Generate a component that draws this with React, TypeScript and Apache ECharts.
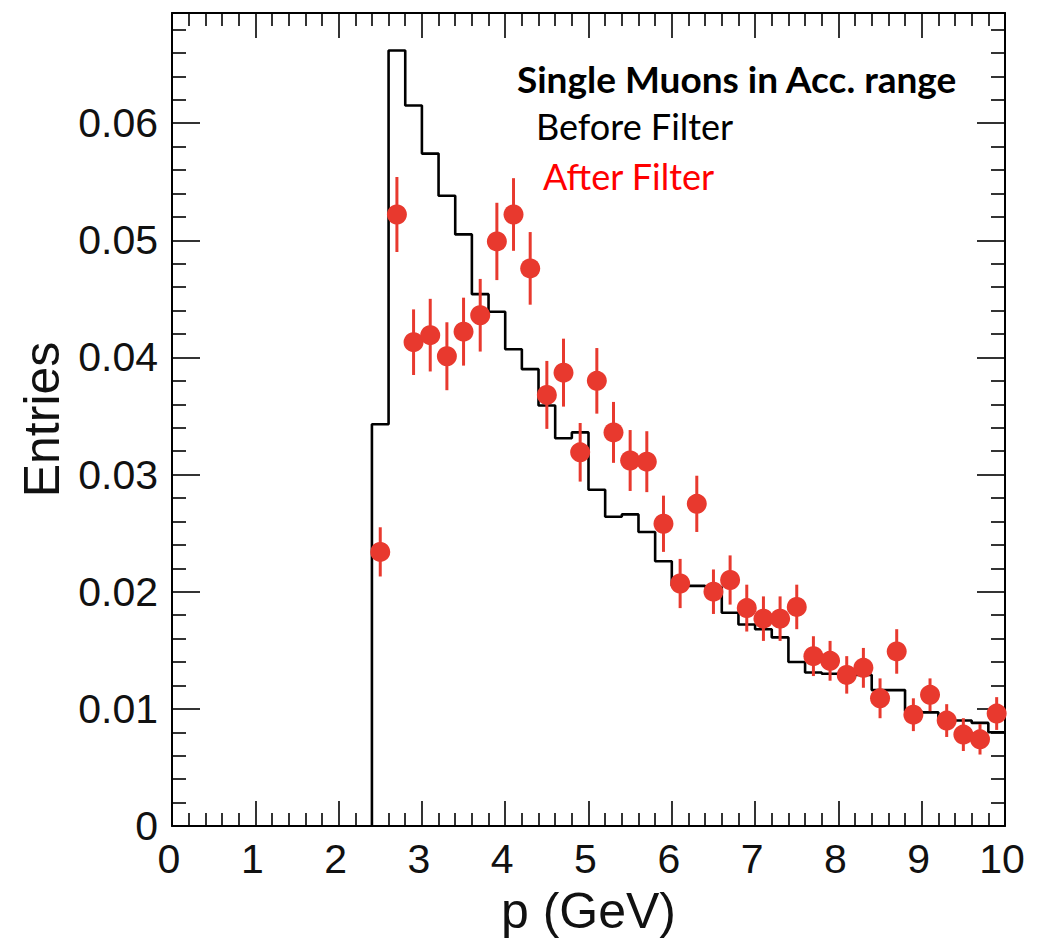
import React, { useEffect, useRef } from "react";
import * as echarts from "echarts";

// Histogram "Before Filter": bin low edges (width 0.2 GeV) and contents
const binWidth = 0.2;
const binLowEdges = [
  2.4, 2.6, 2.8, 3.0, 3.2, 3.4, 3.6, 3.8, 4.0, 4.2, 4.4, 4.6, 4.8, 5.0, 5.2, 5.4, 5.6, 5.8, 6.0,
  6.2, 6.4, 6.6, 6.8, 7.0, 7.2, 7.4, 7.6, 7.8, 8.0, 8.2, 8.4, 8.6, 8.8, 9.0, 9.2, 9.4, 9.6, 9.8,
];
const beforeFilter = [
  0.0343, 0.0662, 0.0615, 0.0574, 0.0538, 0.0505, 0.0454, 0.0439, 0.0407, 0.039, 0.0359, 0.0331,
  0.0336, 0.0287, 0.0264, 0.0266, 0.0251, 0.0226, 0.0205, 0.0205, 0.0204, 0.0182, 0.0172, 0.0168,
  0.0161, 0.014, 0.0131, 0.013, 0.013, 0.0129, 0.0116, 0.0116, 0.0098, 0.0097, 0.0091, 0.009,
  0.0088, 0.008,
];

// "After Filter": points at bin centres with vertical errors
const afterCenters = [
  2.5, 2.7, 2.9, 3.1, 3.3, 3.5, 3.7, 3.9, 4.1, 4.3, 4.5, 4.7, 4.9, 5.1, 5.3, 5.5, 5.7, 5.9, 6.1,
  6.3, 6.5, 6.7, 6.9, 7.1, 7.3, 7.5, 7.7, 7.9, 8.1, 8.3, 8.5, 8.7, 8.9, 9.1, 9.3, 9.5, 9.7, 9.9,
];
const afterFilter = [
  0.0234, 0.0522, 0.0413, 0.0419, 0.0401, 0.0422, 0.0436, 0.0499, 0.0522, 0.0476, 0.0368, 0.0387,
  0.0319, 0.038, 0.0336, 0.0312, 0.0311, 0.0258, 0.0207, 0.0275, 0.02, 0.021, 0.0186, 0.0177,
  0.0177, 0.0187, 0.0145, 0.0141, 0.0129, 0.0135, 0.0109, 0.0149, 0.0095, 0.0112, 0.009, 0.0078,
  0.0074, 0.0096,
];
const afterErr = [
  0.0021, 0.0032, 0.0028, 0.0031, 0.0029, 0.0029, 0.0031, 0.0033, 0.0031, 0.0031, 0.0029, 0.0029,
  0.0025, 0.0028, 0.0026, 0.0026, 0.0026, 0.0024, 0.0021, 0.0024, 0.0019, 0.0021, 0.002, 0.0019,
  0.0019, 0.0019, 0.0017, 0.0017, 0.0016, 0.0017, 0.0017, 0.0019, 0.0014, 0.0014, 0.0014, 0.0014,
  0.0013, 0.0014,
];

const yTickLabels = ["0", "0.01", "0.02", "0.03", "0.04", "0.05", "0.06"];
const xTickLabels = ["0", "1", "2", "3", "4", "5", "6", "7", "8", "9", "10"];

const titleLines = ["Single Muons in Acc. range", "Before Filter", "After Filter"];

const RED = "#e8392e";
const AXIS_FONT = "'Liberation Sans', Arial, Helvetica, sans-serif";
const TEXT_FONT = "Lato, 'Open Sans', sans-serif";

export default function App() {
  const ref = useRef<HTMLDivElement>(null);

  useEffect(() => {
    if (!ref.current) return;
    const chart = echarts.init(ref.current, undefined, { renderer: "svg" });

    // build step outline of the histogram
    const histLine: number[][] = [[binLowEdges[0], 0]];
    binLowEdges.forEach((lo, i) => {
      histLine.push([lo, beforeFilter[i]]);
      histLine.push([lo + binWidth, beforeFilter[i]]);
    });

    const points = afterCenters.map((x, i) => [x, afterFilter[i], afterErr[i]]);

    const yFmt = (v: number) => {
      const idx = Math.round(v / 0.01);
      if (Math.abs(v - idx * 0.01) > 1e-9) return "";
      return yTickLabels[idx] ?? "";
    };
    const xFmt = (v: number) => {
      const idx = Math.round(v);
      if (Math.abs(v - idx) > 1e-9) return "";
      return xTickLabels[idx] ?? "";
    };

    const commonX = {
      type: "value" as const,
      min: 0,
      max: 10,
      interval: 1,
      axisLine: { show: true, onZero: false, lineStyle: { color: "#000", width: 2 } },
      axisTick: { show: true, inside: true, length: 25, lineStyle: { color: "#000", width: 1.6 } },
      minorTick: { show: true, splitNumber: 5, length: 13, lineStyle: { color: "#000", width: 1.6 } },
      splitLine: { show: false },
      minorSplitLine: { show: false },
    };
    const commonY = {
      type: "value" as const,
      min: 0,
      max: 0.0694,
      interval: 0.01,
      axisLine: { show: true, onZero: false, lineStyle: { color: "#000", width: 2 } },
      axisTick: { show: true, inside: true, length: 28, lineStyle: { color: "#000", width: 1.6 } },
      minorTick: { show: true, splitNumber: 5, length: 14, lineStyle: { color: "#000", width: 1.6 } },
      splitLine: { show: false },
      minorSplitLine: { show: false },
    };

    chart.setOption({
      animation: false,
      backgroundColor: "#fff",
      grid: { left: 172, top: 13, right: 50, bottom: 113, containLabel: false },
      xAxis: [
        {
          ...commonX,
          position: "bottom",
          name: "p (GeV)",
          nameLocation: "middle",
          nameGap: 60,
          nameTextStyle: { fontFamily: AXIS_FONT, fontSize: 50, color: "#111" },
          axisLabel: {
            show: true,
            margin: 12,
            fontFamily: AXIS_FONT,
            fontSize: 41,
            color: "#111",
            formatter: xFmt,
            padding: [0, 6, 0, 0],
          },
        },
        { ...commonX, position: "top", axisLabel: { show: false } },
      ],
      yAxis: [
        {
          ...commonY,
          position: "left",
          name: "Entries",
          nameLocation: "middle",
          nameRotate: 90,
          nameGap: 93,
          nameTextStyle: { fontFamily: AXIS_FONT, fontSize: 50, color: "#111" },
          axisLabel: {
            show: true,
            margin: 14,
            fontFamily: AXIS_FONT,
            fontSize: 41,
            color: "#111",
            formatter: yFmt,
          },
        },
        { ...commonY, position: "right", axisLabel: { show: false } },
      ],
      series: [
        {
          name: "Before Filter",
          type: "line",
          data: histLine,
          xAxisIndex: 0,
          yAxisIndex: 0,
          symbol: "none",
          lineStyle: { color: "#000", width: 2.6 },
          clip: true,
          z: 2,
        },
        {
          name: "After Filter errors",
          type: "custom",
          xAxisIndex: 0,
          yAxisIndex: 0,
          data: points,
          encode: { x: 0, y: 1 },
          z: 3,
          renderItem: (params: any, api: any) => {
            const x = api.value(0);
            const y = api.value(1);
            const e = api.value(2);
            const top = api.coord([x, y + e]);
            const bot = api.coord([x, y - e]);
            const l = api.coord([x - binWidth / 2, y]);
            const r = api.coord([x + binWidth / 2, y]);
            return {
              type: "group",
              children: [
                {
                  type: "line",
                  shape: { x1: top[0], y1: top[1], x2: bot[0], y2: bot[1] },
                  style: { stroke: RED, lineWidth: 3 },
                },
                {
                  type: "line",
                  shape: { x1: l[0], y1: l[1], x2: r[0], y2: r[1] },
                  style: { stroke: RED, lineWidth: 3 },
                },
              ],
            };
          },
        },
        {
          name: "After Filter",
          type: "scatter",
          xAxisIndex: 0,
          yAxisIndex: 0,
          data: points.map((p) => [p[0], p[1]]),
          symbol: "circle",
          symbolSize: 20,
          itemStyle: { color: RED, opacity: 1 },
          z: 4,
        },
      ],
      graphic: [
        {
          type: "text",
          left: 517,
          top: 60,
          style: {
            text: titleLines[0],
            font: `bold 37px ${TEXT_FONT}`,
            fill: "#000",
          },
        },
        {
          type: "text",
          left: 536,
          top: 108,
          style: {
            text: titleLines[1],
            font: `36px ${TEXT_FONT}`,
            fill: "#000",
          },
        },
        {
          type: "text",
          left: 543,
          top: 158,
          style: {
            text: titleLines[2],
            font: `36px ${TEXT_FONT}`,
            fill: "#ff0000",
          },
        },
      ],
    });

    return () => chart.dispose();
  }, []);

  return (
    <div
      ref={ref}
      style={{ position: "fixed", left: 0, top: 0, width: 1055, height: 941, background: "#fff" }}
    />
  );
}
